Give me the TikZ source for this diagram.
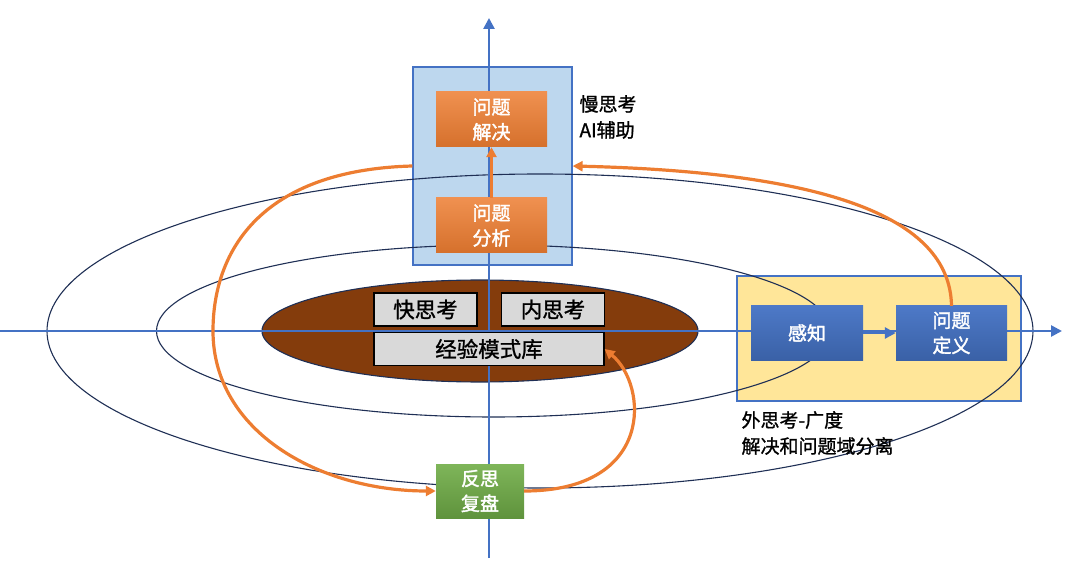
\documentclass[tikz,border=0pt]{standalone}
\usepackage{fontspec}
\setmainfont{Noto Sans CJK SC}
\newfontfamily\medium{Noto Sans CJK SC}[FakeBold=1.2]
\newfontfamily\heavy{Noto Sans CJK SC}[FakeBold=2]
\usetikzlibrary{arrows.meta}
\definecolor{axisblue}{HTML}{4472C4}
\definecolor{ringblue}{HTML}{1F2F55}
\definecolor{slowfill}{HTML}{BDD7EE}
\definecolor{outfill}{HTML}{FFE699}
\definecolor{brown}{HTML}{843C0C}
\definecolor{orange}{HTML}{ED7D31}
\definecolor{green}{HTML}{70AD47}
\definecolor{boxgray}{HTML}{D9D9D9}

\begin{document}
\begin{tikzpicture}[x=1pt,y=-1pt,
    txt/.style={font=\medium\fontsize{19}{26}\selectfont},
    wtxt/.style={font=\heavy\fontsize{19}{25}\selectfont,text=white,align=center,inner sep=0pt},
    region/.style={draw=axisblue,line width=1.2pt,inner sep=0pt},
    ring/.style={draw=ringblue,line width=1.1pt},
    axis/.style={draw=axisblue,line width=2.6pt,-{Triangle[length=11pt,width=11pt]}},
    flow/.style={draw=orange,line width=3.2pt,-{Triangle[length=10pt,width=10pt]}},
    orangebox/.style={wtxt,minimum width=111pt,minimum height=55pt,
      top color=orange!85!white,bottom color=orange!90!black},
    bluebox/.style={wtxt,minimum width=112pt,minimum height=54pt,
      top color=axisblue!95!white,bottom color=axisblue!85!black},
    graybox/.style={draw=black,line width=1.2pt,fill=boxgray,inner sep=0pt,
      font=\medium\fontsize{21.5}{24}\selectfont,minimum height=33pt}]
  \useasboundingbox (0,0) rectangle (1080,564);

  \node[region,fill=slowfill,minimum width=159pt,minimum height=198pt] (slow) at (492.5,166) {};
  \node[region,fill=outfill,minimum width=284pt,minimum height=125pt] (outer) at (879,338.5) {};

  \draw[ring] (540,331) ellipse [x radius=493pt,y radius=157pt];
  \draw[ring] (493.5,331) ellipse [x radius=337pt,y radius=86pt];
  \draw[ring,fill=brown] (480,331) ellipse [x radius=218pt,y radius=51pt];

  \draw[axis] (0,331) -- (1062,331);
  \draw[axis] (489,558) -- (489,18);

  \node[orangebox] (solve) at (491.5,119.5) {问题\\解决};
  \node[orangebox] (analysis) at (491.5,225.5) {问题\\分析};
  \node[txt,anchor=west,align=left] (slowlabel) at (576,117) {慢思考\\AI辅助};

  \node[graybox,minimum width=103pt] (fast) at (425.5,309.5) {快思考};
  \node[graybox,minimum width=103pt] (inner) at (553,309.5) {内思考};
  \node[graybox,minimum width=230pt] (lib) at (489,349) {经验模式库};

  \node[bluebox] (perc) at (807,333) {感知};
  \node[bluebox,minimum width=111pt] (def) at (951.5,333) {问题\\定义};
  \node[txt,anchor=west,align=left] (outlabel) at (738,433) {外思考-广度\\解决和问题域分离};

  \node[wtxt,minimum width=88pt,minimum height=54pt,
    top color=green!90!white,bottom color=green!85!black] (review) at (480,491) {反思\\复盘};

  \draw[axis] (perc) -- (def);
  \draw[flow] (analysis) -- (solve);
  \draw[flow] (def.north) .. controls (950,215) and (820,172) .. (slow.east);
  \draw[flow] (slow.west) .. controls (262,170) and (213,250) .. (213,331)
    .. controls (213,432) and (320,491) .. (review.west);
  \draw[flow] (review.east) .. controls (655,491) and (648,385) .. (lib.east);
\end{tikzpicture}
\end{document}
